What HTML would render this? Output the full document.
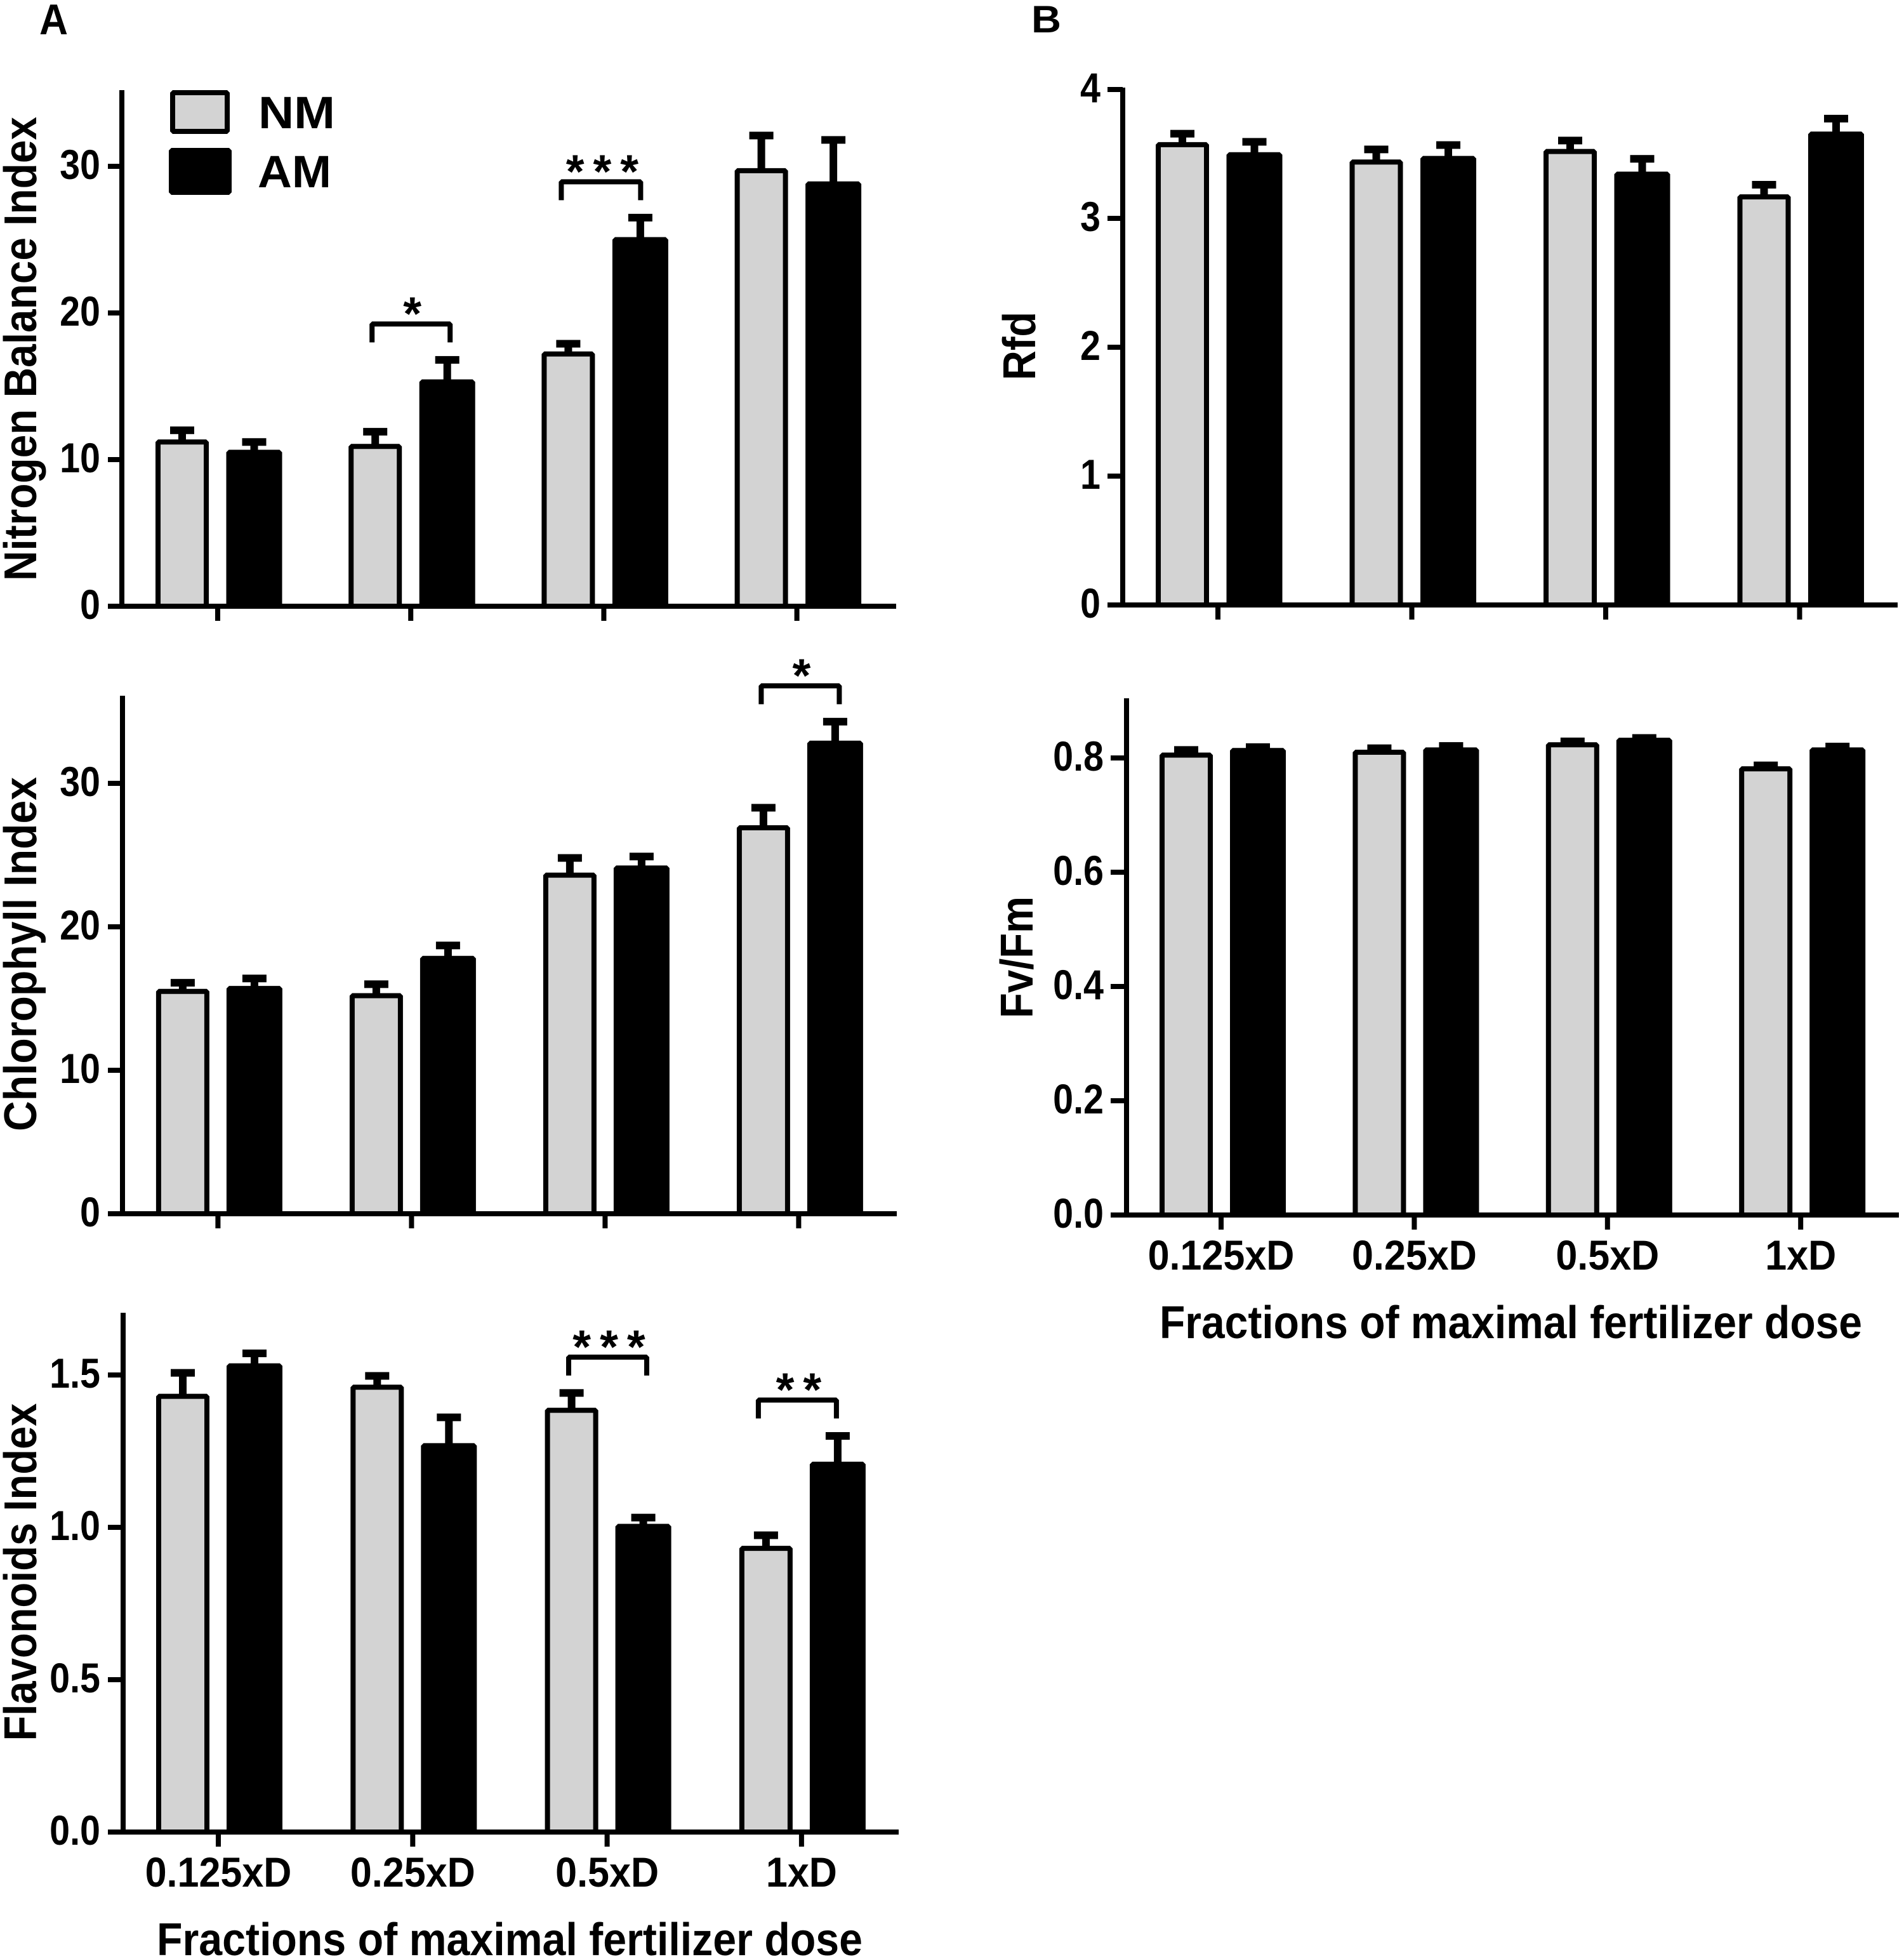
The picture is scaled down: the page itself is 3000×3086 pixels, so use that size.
<!DOCTYPE html>
<html lang="en">
<head>
<meta charset="utf-8">
<title>NM and AM bar charts by fertilizer dose</title>
<style>
  html, body { margin: 0; padding: 0; background: #fff; }
  svg { display: block; }
  text { font-family: "Liberation Sans", sans-serif; font-weight: 700; fill: #000; }
  .y-title, .x-title { font-size: 72px; }
  .legend-text { font-size: 71px; }
</style>
</head>
<body>
<svg id="figure" xmlns="http://www.w3.org/2000/svg" width="3000" height="3086" viewBox="0 0 3000 3086">
  <rect x="0" y="0" width="3000" height="3086" fill="#fff"/>
  <text x="62" y="54" font-size="68" textLength="45" lengthAdjust="spacingAndGlyphs">A</text>
  <text x="1625" y="51" font-size="60" textLength="47" lengthAdjust="spacingAndGlyphs">B</text>

  <text class="y-title" x="57" y="549.5" text-anchor="middle" textLength="731" lengthAdjust="spacingAndGlyphs" transform="rotate(-90 57 549.5)">Nitrogen Balance Index</text>
  <text class="y-title" x="57" y="1503" text-anchor="middle" textLength="558" lengthAdjust="spacingAndGlyphs" transform="rotate(-90 57 1503)">Chlorophyll Index</text>
  <text class="y-title" x="57" y="2476.5" text-anchor="middle" textLength="532" lengthAdjust="spacingAndGlyphs" transform="rotate(-90 57 2476.5)">Flavonoids Index</text>
  <text class="y-title" x="1631" y="545" text-anchor="middle" textLength="108" lengthAdjust="spacingAndGlyphs" transform="rotate(-90 1631 545)">Rfd</text>
  <text class="y-title" x="1627" y="1508" text-anchor="middle" textLength="192" lengthAdjust="spacingAndGlyphs" transform="rotate(-90 1627 1508)">Fv/Fm</text>

  <text class="x-title" x="247" y="3080" textLength="1112" lengthAdjust="spacingAndGlyphs">Fractions of maximal fertilizer dose</text>
  <text class="x-title" x="1827" y="2108" textLength="1107" lengthAdjust="spacingAndGlyphs">Fractions of maximal fertilizer dose</text>

  <g id="panels"></g>

  <g>
    <rect x="272" y="146" width="86" height="61" fill="#d3d3d3" stroke="#000" stroke-width="8" stroke-linejoin="bevel"/>
    <text class="legend-text" x="407" y="202" textLength="121" lengthAdjust="spacingAndGlyphs">NM</text>
    <rect x="270" y="237" width="91" height="66" fill="#000" stroke="#000" stroke-width="8" stroke-linejoin="bevel"/>
    <text class="legend-text" x="406" y="295" textLength="116" lengthAdjust="spacingAndGlyphs">AM</text>
  </g>
</svg>

<script>
// ---- Data ----
const categories = ['0.125xD', '0.25xD', '0.5xD', '1xD'];

const nbiTicks = [0, 10, 20, 30];
const nbiTickLabels = ['0', '10', '20', '30'];
const nbiNM = [11.2, 10.9, 17.2, 29.7];
const nbiNMErr = [0.8, 1.0, 0.7, 2.4];
const nbiAM = [10.5, 15.3, 25.0, 28.8];
const nbiAMErr = [0.7, 1.5, 1.5, 3.0];

const chlTicks = [0, 10, 20, 30];
const chlTickLabels = ['0', '10', '20', '30'];
const chlNM = [15.5, 15.2, 23.6, 26.9];
const chlNMErr = [0.6, 0.8, 1.2, 1.4];
const chlAM = [15.7, 17.8, 24.1, 32.8];
const chlAMErr = [0.7, 0.9, 0.8, 1.5];

const flvTicks = [0, 0.5, 1, 1.5];
const flvTickLabels = ['0.0', '0.5', '1.0', '1.5'];
const flvNM = [1.43, 1.46, 1.384, 0.931];
const flvNMErr = [0.077, 0.037, 0.057, 0.043];
const flvAM = [1.53, 1.268, 1.003, 1.207];
const flvAMErr = [0.041, 0.093, 0.029, 0.093];

const rfdTicks = [0, 1, 2, 3, 4];
const rfdTickLabels = ['0', '1', '2', '3', '4'];
const rfdNM = [3.572, 3.437, 3.519, 3.167];
const rfdNMErr = [0.085, 0.098, 0.085, 0.094];
const rfdAM = [3.494, 3.465, 3.343, 3.654];
const rfdAMErr = [0.10, 0.104, 0.119, 0.12];

const fvfmTicks = [0, 0.2, 0.4, 0.6, 0.8];
const fvfmTickLabels = ['0.0', '0.2', '0.4', '0.6', '0.8'];
const fvfmNM = [0.805, 0.81, 0.823, 0.781];
const fvfmNMErr = [0.009, 0.007, 0.006, 0.006];
const fvfmAM = [0.813, 0.814, 0.831, 0.814];
const fvfmAMErr = [0.006, 0.007, 0.004, 0.006];

// ---- Rendering ----
const SVGNS = 'http://www.w3.org/2000/svg';
const LINE = 8;
const GRAY = '#d3d3d3';

function shape(tag, attrs, parent) {
  const node = document.createElementNS(SVGNS, tag);
  Object.keys(attrs).forEach(function (k) { node.setAttribute(k, attrs[k]); });
  parent.appendChild(node);
  return node;
}

function condense(label, factor) {
  label.setAttribute('textLength', label.getComputedTextLength() * factor);
  label.setAttribute('lengthAdjust', 'spacingAndGlyphs');
}

function drawPanel(frame, nm, nmErr, am, amErr, ticks, tickLabels, showCategories) {
  const root = document.getElementById('panels');
  const g = shape('g', {}, root);
  
  

  const yScale = function (v) { return frame.y0 - v * frame.pxPerUnit; };
  const xScale = function (i) { return frame.x0 + i * frame.step; };

  function drawBar(cx, value, err, isAM) {
    const hi = yScale(value + err);
    const top = yScale(value);
    const stem = shape('rect', { x: cx - 6, y: hi, width: 12, height: Math.max(0, top - hi), fill: '#000' }, g);
    
    
    const cap = shape('rect', { x: cx - 19, y: hi - 6, width: 38, height: 12, fill: '#000' }, g);
    
    
    const w = isAM ? 80 : 76;
    const bar = shape('rect', {
      x: cx - w / 2, y: top, width: w, height: frame.y0 - top,
      fill: isAM ? '#000' : GRAY, stroke: '#000', 'stroke-width': LINE, 'stroke-linejoin': 'bevel'
    }, g);
    if (isAM) {
      
    } else {
      
    }
    
  }

  categories.forEach(function (cat, i) {
    drawBar(xScale(i) + frame.nmOffset, nm[i], nmErr[i], false);
    drawBar(xScale(i) + frame.amOffset, am[i], amErr[i], true);
  });

  const yAxis = shape('rect', { x: frame.axisX - LINE / 2, y: frame.top, width: LINE, height: frame.y0 + LINE / 2 - frame.top, fill: '#000' }, g);
  
  
  const xAxis = shape('rect', { x: frame.left, y: frame.y0 - LINE / 2, width: frame.right - frame.left, height: LINE, fill: '#000' }, g);
  
  

  ticks.forEach(function (t, i) {
    const y = yScale(t);
    const tick = shape('rect', { x: frame.left, y: y - LINE / 2, width: frame.axisX - frame.left, height: LINE, fill: '#000' }, g);
    
    
    const label = shape('text', { x: frame.labelRight, y: y + 20, 'text-anchor': 'end', 'font-size': 66 }, g);
    label.textContent = tickLabels[i];
    
    
    condense(label, 0.87);
  });

  categories.forEach(function (cat, i) {
    const tick = shape('rect', { x: xScale(i) - LINE / 2, y: frame.y0, width: LINE, height: 23, fill: '#000' }, g);
    
    
    if (showCategories) {
      const label = shape('text', { x: xScale(i), y: frame.y0 + 86, 'text-anchor': 'middle', 'font-size': 66 }, g);
      label.textContent = cat;
      
      
      condense(label, 0.925);
    }
  });

  return function drawBracket(i, stars, dx1, dx2) {
    const maxHi = Math.max(nm[i] + nmErr[i], am[i] + amErr[i]);
    const top = yScale(maxHi) - 60.5;
    const x1 = xScale(i) + dx1;
    const x2 = xScale(i) + dx2;
    const d = 'M' + (x1 + 4) + ' ' + (top + 33) + 'V' + (top + 4) + 'H' + (x2 - 4) + 'V' + (top + 33);
    const bracket = shape('path', { d: d, fill: 'none', stroke: '#000', 'stroke-width': LINE, 'stroke-linejoin': 'bevel' }, g);
    
    
    const mark = shape('text', {
      x: (x1 + x2) / 2 + 9, y: top + 13, 'text-anchor': 'middle', 'font-size': 74, 'letter-spacing': 14
    }, g);
    mark.textContent = stars;
    
    
  };
}

const nbiBracket = drawPanel(
  { y0: 955, pxPerUnit: 23.1, top: 142, axisX: 192, left: 170, right: 1412, x0: 343, step: 304.2, nmOffset: -56, amOffset: 57.5, labelRight: 158 },
  nbiNM, nbiNMErr, nbiAM, nbiAMErr, nbiTicks, nbiTickLabels, false);
nbiBracket(1, '*', -65, 66);
nbiBracket(2, '***', -71, 62);

const chlBracket = drawPanel(
  { y0: 1912, pxPerUnit: 22.6, top: 1096, axisX: 193, left: 170, right: 1413, x0: 343.4, step: 305, nmOffset: -55.5, amOffset: 57.5, labelRight: 158 },
  chlNM, chlNMErr, chlAM, chlAMErr, chlTicks, chlTickLabels, false);
chlBracket(3, '*', -63, 68);

const flvBracket = drawPanel(
  { y0: 2886, pxPerUnit: 480, top: 2068, axisX: 194, left: 170, right: 1416, x0: 344, step: 306.3, nmOffset: -56, amOffset: 57, labelRight: 158 },
  flvNM, flvNMErr, flvAM, flvAMErr, flvTicks, flvTickLabels, true);
flvBracket(2, '***', -64.6, 66.4);
flvBracket(3, '**', -72, 59);

drawPanel(
  { y0: 953, pxPerUnit: 203, top: 138, axisX: 1769, left: 1745, right: 2990, x0: 1919, step: 305.5, nmOffset: -56, amOffset: 57.5, labelRight: 1734 },
  rfdNM, rfdNMErr, rfdAM, rfdAMErr, rfdTicks, rfdTickLabels, false);

drawPanel(
  { y0: 1914, pxPerUnit: 900, top: 1100, axisX: 1775, left: 1750, right: 2992, x0: 1924, step: 304.4, nmOffset: -55, amOffset: 58, labelRight: 1739 },
  fvfmNM, fvfmNMErr, fvfmAM, fvfmAMErr, fvfmTicks, fvfmTickLabels, true);
</script>
</body>
</html>
